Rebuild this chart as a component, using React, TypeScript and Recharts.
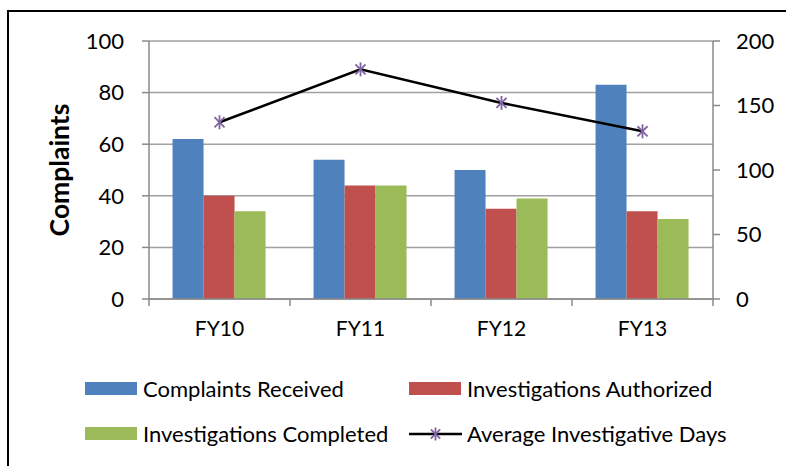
import React from 'react';
import { ComposedChart, Bar, Line, XAxis, YAxis, CartesianGrid, Legend } from 'recharts';

const categories = ['FY10', 'FY11', 'FY12', 'FY13'];
const complaintsReceived = [62, 54, 50, 83];
const investigationsAuthorized = [40, 44, 35, 34];
const investigationsCompleted = [34, 44, 39, 31];
const averageInvestigativeDays = [137, 178, 152, 130];
const leftTicks = [0, 20, 40, 60, 80, 100];
const rightTicks = [0, 50, 100, 150, 200];
const seriesNames = ['Complaints Received', 'Investigations Authorized', 'Investigations Completed', 'Average Investigative Days'];

const data = categories.map((c, i) => ({
  category: c,
  received: complaintsReceived[i],
  authorized: investigationsAuthorized[i],
  completed: investigationsCompleted[i],
  days: averageInvestigativeDays[i],
}));

const FONT = 'Lato, "Liberation Sans", sans-serif';
const BLUE = '#4f81bd';
const RED = '#c0504d';
const GREEN = '#9bbb59';
const PURPLE = '#8064a2';
const GRID = '#a0a0a0';
const AXIS = '#8a8a8a';
const TICK_FS = 22;
const XTICK_FS = 21;
const LEGEND_FS = 22;

const Star = ({ cx, cy, color, r = 7 }: any) => {
  const d = r * 0.72;
  return (
    <g stroke={color} strokeWidth={1.8}>
      <line x1={cx} y1={cy - r} x2={cx} y2={cy + r} />
      <line x1={cx - d} y1={cy - d} x2={cx + d} y2={cy + d} />
      <line x1={cx - d} y1={cy + d} x2={cx + d} y2={cy - d} />
    </g>
  );
};

const XTick = (props: any) => {
  const { x, y, payload, index } = props;
  const off = payload && payload.offset != null ? payload.offset : 70.5;
  const axisY = y - 22;
  return (
    <g>
      <line x1={x - off} x2={x - off} y1={axisY} y2={axisY + 7} stroke={AXIS} strokeWidth={1.5} />
      {index === categories.length - 1 && (
        <line x1={x + off} x2={x + off} y1={axisY} y2={axisY + 7} stroke={AXIS} strokeWidth={1.5} />
      )}
      <text x={x} y={y} dy="0.71em" textAnchor="middle" fill="#000" fontSize={XTICK_FS} fontFamily={FONT}>
        {payload.value}
      </text>
    </g>
  );
};

const LegendContent = (props: any) => {
  const payload = [...(props.payload || [])].sort(
    (a: any, b: any) => seriesNames.indexOf(a.value) - seriesNames.indexOf(b.value)
  );
  return (
    <div style={{ display: 'flex', flexWrap: 'wrap', width: 690, fontFamily: FONT, fontSize: LEGEND_FS, color: '#000' }}>
      {payload.map((p: any, i: number) => (
        <div
          key={i}
          style={{ width: i % 2 === 0 ? 324 : 366, height: 45, display: 'flex', alignItems: 'center', whiteSpace: 'nowrap' }}
        >
          {p.type === 'line' ? (
            <svg width={53} height={16} style={{ marginRight: 5, flex: 'none' }}>
              <line x1={0} y1={8} x2={53} y2={8} stroke="#000" strokeWidth={2.5} />
              <Star cx={26.5} cy={8} color={PURPLE} r={6.5} />
            </svg>
          ) : (
            <div style={{ width: 52, height: 13, background: p.color, marginRight: 6, flex: 'none' }} />
          )}
          <span>{p.value}</span>
        </div>
      ))}
    </div>
  );
};

export default function App() {
  return (
    <div style={{ position: 'absolute', left: 0, top: 0, width: 786, height: 466, overflow: 'hidden', background: '#fff' }}>
      <div
        style={{
          position: 'absolute',
          left: 7,
          top: 10,
          width: 900,
          height: 600,
          borderTop: '2.5px solid #000',
          borderLeft: '2px solid #000',
        }}
      />
      <div style={{ position: 'absolute', left: 0, top: 0 }}>
        <ComposedChart
          width={786}
          height={466}
          data={data}
          margin={{ top: 41, right: 0, bottom: 137, left: 0 }}
          barGap={0}
          barCategoryGap="16.7%"
        >
          <CartesianGrid yAxisId="left" vertical={false} stroke={GRID} strokeWidth={1.5} />
          <XAxis
            dataKey="category"
            height={30}
            axisLine={{ stroke: AXIS, strokeWidth: 1.5 }}
            tickLine={false}
            tickSize={7}
            tickMargin={15}
            tick={<XTick />}
            interval={0}
          />
          <YAxis
            yAxisId="left"
            width={149}
            domain={[0, 100]}
            ticks={leftTicks}
            interval={0}
            axisLine={{ stroke: AXIS, strokeWidth: 1.5 }}
            tickLine={{ stroke: AXIS, strokeWidth: 1.5 }}
            tickSize={7}
            tickMargin={18}
            tick={{ fill: '#000', fontSize: TICK_FS, fontFamily: FONT }}
            label={{
              value: 'Complaints',
              angle: -90,
              position: 'insideLeft',
              offset: 60,
              style: { textAnchor: 'middle', fontWeight: 700, fontSize: 26.5, fontFamily: FONT, fill: '#000' },
            }}
          />
          <YAxis
            yAxisId="right"
            orientation="right"
            width={73}
            domain={[0, 200]}
            ticks={rightTicks}
            interval={0}
            axisLine={{ stroke: AXIS, strokeWidth: 1.5 }}
            tickLine={{ stroke: AXIS, strokeWidth: 1.5 }}
            tickSize={7}
            tickMargin={16}
            tick={{ fill: '#000', fontSize: TICK_FS, fontFamily: FONT, textAnchor: 'start' }}
          />
          <Bar yAxisId="left" dataKey="received" name="Complaints Received" fill={BLUE} isAnimationActive={false} />
          <Bar yAxisId="left" dataKey="authorized" name="Investigations Authorized" fill={RED} isAnimationActive={false} />
          <Bar yAxisId="left" dataKey="completed" name="Investigations Completed" fill={GREEN} isAnimationActive={false} />
          <Line
            yAxisId="right"
            dataKey="days"
            name="Average Investigative Days"
            stroke="#000"
            strokeWidth={2.5}
            isAnimationActive={false}
            dot={(p: any) => <Star key={`s${p.index}`} cx={p.cx} cy={p.cy} color={PURPLE} />}
            activeDot={false}
            legendType="line"
          />
          <Legend
            layout="vertical"
            align="center"
            verticalAlign="middle"
            wrapperStyle={{ left: 85, top: 366, width: 690 }}
            content={<LegendContent />}
          />
        </ComposedChart>
      </div>
    </div>
  );
}
